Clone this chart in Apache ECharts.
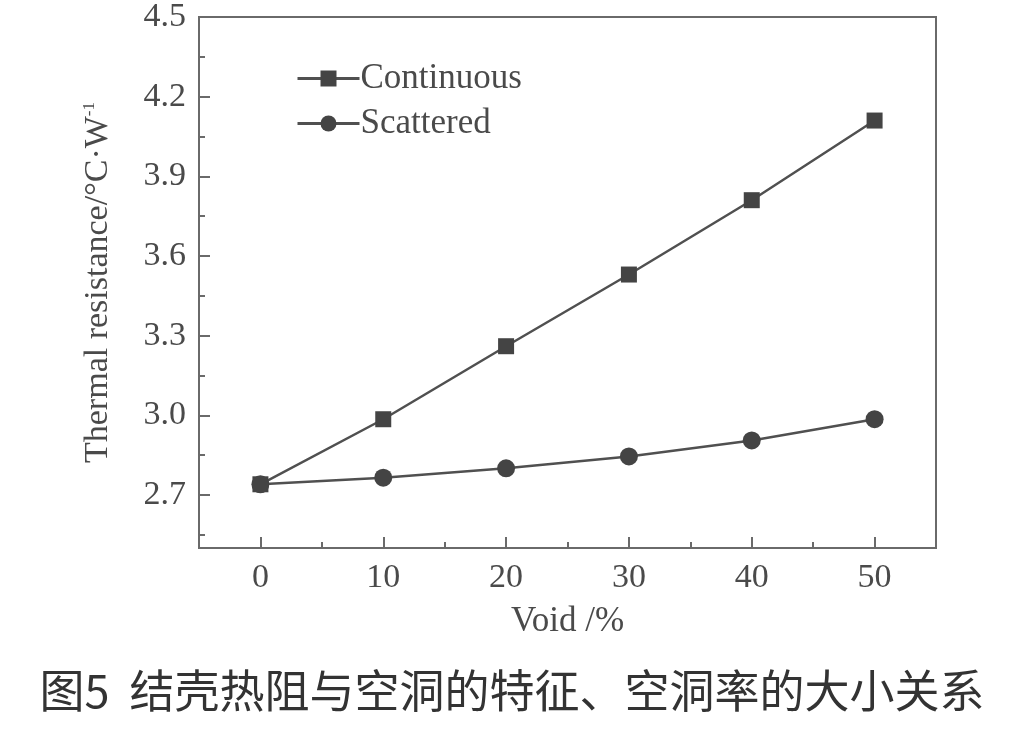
<!DOCTYPE html>
<html>
<head>
<meta charset="utf-8">
<style>html,body{margin:0;padding:0;background:#fff}#c{width:1024px;height:729px}</style>
<script src="https://cdn.jsdelivr.net/npm/echarts@6/dist/echarts.min.js"></script>
</head>
<body>
<div id="c"></div>
<script>
var voids = [0, 10, 20, 30, 40, 50];
var continuous = [2.74, 2.985, 3.26, 3.53, 3.81, 4.11];
var scattered = [2.74, 2.765, 2.80, 2.845, 2.905, 2.985];
var xMajor = [0, 10, 20, 30, 40, 50];
var xMinor = [5, 15, 25, 35, 45];
var yMajor = [2.7, 3.0, 3.3, 3.6, 3.9, 4.2, 4.5];
var yMinor = [2.55, 2.85, 3.15, 3.45, 3.75, 4.05, 4.35];

var serif = '"Liberation Serif", "Times New Roman", serif';
var ink = '#4a4a4a';
var axisCol = '#6a6a6a';

function pairs(xs, ys) { return xs.map(function (x, i) { return [x, ys[i]]; }); }

var chart = echarts.init(document.getElementById('c'));
chart.setOption({
  animation: false,
  backgroundColor: '#fff',
  title: {
    text: '图5  结壳热阻与空洞的特征、空洞率的大小关系',
    left: 'center', top: 663,
    textStyle: { fontFamily: '"Noto Sans CJK SC", sans-serif', fontSize: 45, fontWeight: 'normal', color: '#333' }
  },
  grid: { left: 199, top: 14, right: 88, bottom: 181, show: true, borderColor: axisCol, borderWidth: 2, backgroundColor: 'transparent' },
  legend: {
    orient: 'vertical', left: 291, top: 56, itemWidth: 62, itemHeight: 20, itemGap: 10,
    lineStyle: { width: 3 },
    textStyle: { fontFamily: serif, fontSize: 35, color: ink, padding: [0, 0, 0, -4] },
    data: ['Continuous', 'Scattered']
  },
  xAxis: [
    {
      type: 'value', min: -5, max: 55, position: 'bottom',
      name: 'Void /%', nameLocation: 'middle', nameGap: 56,
      nameTextStyle: { fontFamily: serif, fontSize: 35, color: ink },
      axisLine: { show: true, onZero: false, lineStyle: { color: axisCol, width: 2 } },
      axisTick: { show: true, inside: true, length: 11, customValues: xMajor, lineStyle: { color: axisCol, width: 2 } },
      axisLabel: { customValues: xMajor, fontFamily: serif, fontSize: 34, color: ink, margin: 13 },
      splitLine: { show: false }
    },
    {
      type: 'value', min: -5, max: 55, position: 'bottom',
      axisLine: { show: false, onZero: false },
      axisTick: { show: true, inside: true, length: 6, customValues: xMinor, lineStyle: { color: axisCol, width: 2 } },
      axisLabel: { show: false },
      splitLine: { show: false }
    }
  ],
  yAxis: [
    {
      type: 'value', min: 2.5, max: 4.5, position: 'left',
      name: '{a|Thermal resistance/°C·W}{s|-1}', nameLocation: 'middle', nameGap: 84,
      nameTextStyle: {
        fontFamily: serif, fontSize: 34, color: ink,
        rich: {
          a: { fontFamily: serif, fontSize: 34, color: ink },
          s: { fontFamily: serif, fontSize: 17, color: ink, verticalAlign: 'top', padding: [0, 0, 16, 0] }
        }
      },
      axisLine: { show: true, onZero: false, lineStyle: { color: axisCol, width: 2 } },
      axisTick: { show: true, inside: true, length: 11, customValues: yMajor, lineStyle: { color: axisCol, width: 2 } },
      axisLabel: { customValues: yMajor, fontFamily: serif, fontSize: 34, color: ink, margin: 13, formatter: function (v) { return v.toFixed(1); } },
      splitLine: { show: false }
    },
    {
      type: 'value', min: 2.5, max: 4.5, position: 'left',
      axisLine: { show: false, onZero: false },
      axisTick: { show: true, inside: true, length: 6, customValues: yMinor, lineStyle: { color: axisCol, width: 2 } },
      axisLabel: { show: false },
      splitLine: { show: false }
    }
  ],
  series: [
    {
      name: 'Continuous', type: 'line', xAxisIndex: 0, yAxisIndex: 0,
      data: pairs(voids, continuous),
      symbol: 'rect', symbolSize: 16,
      lineStyle: { color: '#505050', width: 2.5 },
      itemStyle: { color: '#444' }, z: 3
    },
    {
      name: 'Scattered', type: 'line', xAxisIndex: 0, yAxisIndex: 0,
      data: pairs(voids, scattered),
      symbol: 'circle', symbolSize: 18,
      lineStyle: { color: '#505050', width: 2.5 },
      itemStyle: { color: '#444' }, z: 4
    }
  ]
});
</script>
</body>
</html>
